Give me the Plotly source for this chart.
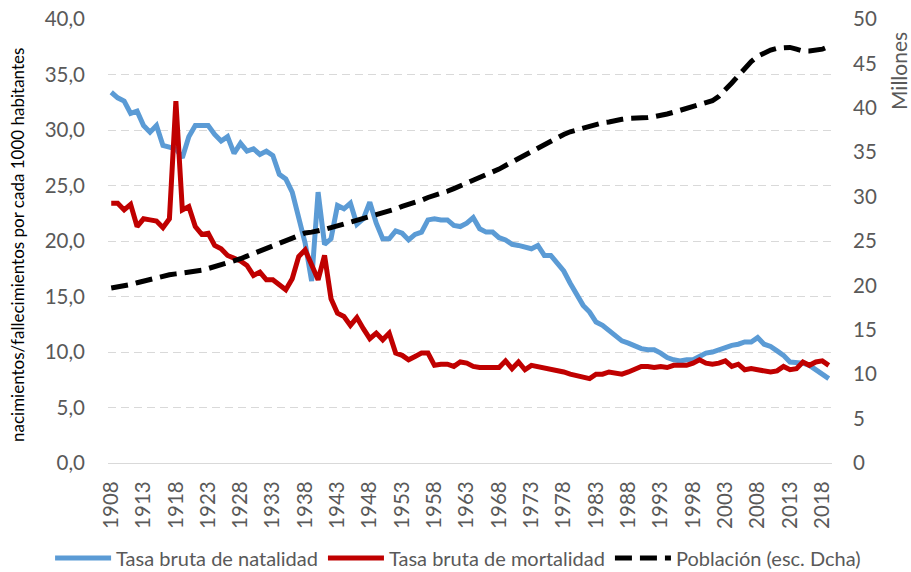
import plotly.graph_objects as go

years = list(range(1908, 2020))

natalidad = [
    33.4, 32.9, 32.6, 31.5, 31.7, 30.4, 29.8, 30.4, 28.6, 28.5,  # 1908-1917
    28.3, 27.5, 29.4, 30.4, 30.4, 30.4, 29.6, 29.0, 29.4, 27.9,  # 1918-1927
    28.8, 28.1, 28.3, 27.8, 28.1, 27.7, 26.0, 25.6, 24.4, 22.0,  # 1928-1937
    19.8, 16.4, 24.4, 19.7, 20.2, 23.2, 22.9, 23.4, 21.5, 22.0,  # 1938-1947
    23.5, 21.6, 20.2, 20.2, 20.9, 20.7, 20.1, 20.6, 20.8, 21.9,  # 1948-1957
    22.0, 21.9, 21.9, 21.4, 21.3, 21.6, 22.1, 21.1, 20.8, 20.8,  # 1958-1967
    20.3, 20.1, 19.7, 19.6, 19.5, 19.3, 19.6, 18.7, 18.7, 18.0,  # 1968-1977
    17.3, 16.2, 15.2, 14.2, 13.6, 12.7, 12.4, 11.9, 11.4, 11.0,  # 1978-1987
    10.8, 10.5, 10.3, 10.2, 10.2, 9.9, 9.5, 9.3, 9.2, 9.3,       # 1988-1997
    9.3, 9.6, 9.9, 10.0, 10.2, 10.5, 10.6, 10.7, 10.9, 10.9,     # 1998-2007
    11.3, 10.7, 10.5, 10.1, 9.7, 9.1, 9.1, 9.0, 8.8, 8.4,        # 2008-2017
    7.9, 7.6,                                                    # 2018-2019
]

mortalidad = [
    23.4, 23.4, 22.8, 23.3, 21.3, 22.0, 21.9, 21.8, 21.2, 22.0,  # 1908-1917
    32.6, 22.8, 23.1, 21.3, 20.6, 20.7, 19.6, 19.3, 18.7, 18.5,  # 1918-1927
    18.2, 17.8, 16.9, 17.2, 16.5, 16.5, 16.0, 15.6, 16.6, 18.6,  # 1928-1937
    19.2, 17.8, 16.5, 18.7, 14.8, 13.5, 13.2, 12.4, 13.1, 12.1,  # 1938-1947
    11.2, 11.7, 11.1, 11.7, 9.9, 9.7, 9.3, 9.6, 9.9, 9.9,        # 1948-1957
    8.8, 8.9, 8.9, 8.7, 9.1, 9.0, 8.7, 8.6, 8.6, 8.6,            # 1958-1967
    8.6, 9.2, 8.5, 9.1, 8.4, 8.8, 8.7, 8.6, 8.4, 8.3,            # 1968-1977
    8.2, 8.0, 7.9, 7.8, 7.6, 8.0, 8.0, 8.2, 8.1, 8.0,            # 1978-1987
    8.2, 8.5, 8.7, 8.7, 8.6, 8.7, 8.6, 8.8, 8.8, 8.8,            # 1988-1997
    9.0, 9.3, 9.0, 8.9, 9.0, 9.2, 8.7, 8.9, 8.4, 8.5,            # 1998-2007
    8.4, 8.3, 8.2, 8.3, 8.7, 8.4, 8.5, 9.1, 8.8, 9.1,            # 2008-2017
    9.2, 8.8,                                                    # 2018-2019
]

poblacion = [
    19.7, 19.8, 20.0, 20.1, 20.3, 20.5, 20.7, 20.8, 21.0, 21.2,  # 1908-1917
    21.3, 21.4, 21.4, 21.5, 21.7, 21.9, 22.1, 22.3, 22.5, 22.7,  # 1918-1927
    23.0, 23.3, 23.6, 23.9, 24.2, 24.5, 24.8, 25.1, 25.4, 25.7,  # 1928-1937
    25.9, 26.0, 26.1, 26.3, 26.5, 26.7, 26.9, 27.1, 27.3, 27.5,  # 1938-1947
    27.8, 28.0, 28.2, 28.4, 28.6, 28.9, 29.1, 29.4, 29.6, 29.9,  # 1948-1957
    30.1, 30.4, 30.6, 30.9, 31.2, 31.5, 31.8, 32.1, 32.5, 32.8,  # 1958-1967
    33.1, 33.5, 33.9, 34.3, 34.7, 35.1, 35.5, 35.9, 36.3, 36.7,  # 1968-1977
    37.0, 37.3, 37.5, 37.8, 37.9, 38.1, 38.3, 38.4, 38.6, 38.7,  # 1978-1987
    38.8, 38.8, 38.9, 38.9, 39.0, 39.1, 39.3, 39.5, 39.7, 39.9,  # 1988-1997
    40.1, 40.3, 40.5, 40.8, 41.3, 42.0, 42.8, 43.6, 44.5, 45.2,  # 1998-2007
    45.8, 46.2, 46.5, 46.7, 46.8, 46.8, 46.6, 46.4, 46.4, 46.5,  # 2008-2017
    46.6, 46.9,                                                  # 2018-2019
]

tick_years = list(range(1908, 2020, 5))
left_ticks = [0, 5, 10, 15, 20, 25, 30, 35, 40]
right_ticks = [0, 5, 10, 15, 20, 25, 30, 35, 40, 45, 50]

FONT = "Lato"
GRAY = "#595959"
TICK = 20.5

fig = go.Figure()
fig.add_trace(go.Scatter(
    x=years, y=natalidad, name="Tasa bruta de natalidad", mode="lines",
    line=dict(color="#5B9BD5", width=5),
))
fig.add_trace(go.Scatter(
    x=years, y=mortalidad, name="Tasa bruta de mortalidad", mode="lines",
    line=dict(color="#C00000", width=5),
))
fig.add_trace(go.Scatter(
    x=years, y=poblacion, name="Población (esc. Dcha)", mode="lines",
    line=dict(color="#000000", width=5, dash="17px,8px"), yaxis="y2",
))

fig.update_layout(
    width=911, height=572,
    margin=dict(l=108, r=79, t=19, b=109, autoexpand=False),
    paper_bgcolor="white", plot_bgcolor="white",
    separators=", ",
    font=dict(family=FONT, size=TICK, color=GRAY),
    showlegend=True,
    legend=dict(
        orientation="h", xref="paper", x=-0.08, xanchor="left",
        yref="paper", y=-0.214, yanchor="middle",
        font=dict(family=FONT, size=20, color=GRAY),
        itemwidth=56, tracegroupgap=0,
    ),
    xaxis=dict(
        range=[1907.5, 2019.5], tickmode="array", tickvals=tick_years,
        ticktext=[str(y) for y in tick_years], tickangle=-90,
        showgrid=False, zeroline=False, showline=True,
        linecolor="#D9D9D9", linewidth=1.3, ticks="",
        tickfont=dict(family=FONT, size=TICK, color=GRAY),
        ticklabelstandoff=9,
    ),
    yaxis=dict(
        range=[0, 40], tickmode="array", tickvals=left_ticks,
        tickformat=".1f", showgrid=True, gridcolor="#D9D9D9",
        griddash="8px,5px", gridwidth=1.3, zeroline=False, showline=False,
        ticks="", ticklabelstandoff=22,
        tickfont=dict(family=FONT, size=TICK, color=GRAY),
    ),
    yaxis2=dict(
        range=[0, 50], tickmode="array", tickvals=right_ticks,
        overlaying="y", side="right", showgrid=False, zeroline=False,
        showline=False, ticks="", ticklabelstandoff=20,
        tickfont=dict(family=FONT, size=TICK, color=GRAY),
    ),
    annotations=[
        dict(
            text="Millones", xref="paper", yref="paper",
            x=1.0, xshift=66, y=1.0, yshift=-52,
            xanchor="center", yanchor="middle", showarrow=False,
            textangle=-90, font=dict(family=FONT, size=21, color=GRAY),
        ),
        dict(
            text="nacimientos/fallecimientos por cada 1000 habitantes",
            xref="paper", yref="paper", x=0.0, xshift=-91, y=0.5, yshift=-4,
            xanchor="center", yanchor="middle", showarrow=False,
            textangle=-90, font=dict(family=FONT, size=17, color="#000000"),
        ),
    ],
)

fig.write_html("out.html", config={"displayModeBar": False},
               post_script="document.body.style.margin='0px';document.body.style.overflow='hidden';")
